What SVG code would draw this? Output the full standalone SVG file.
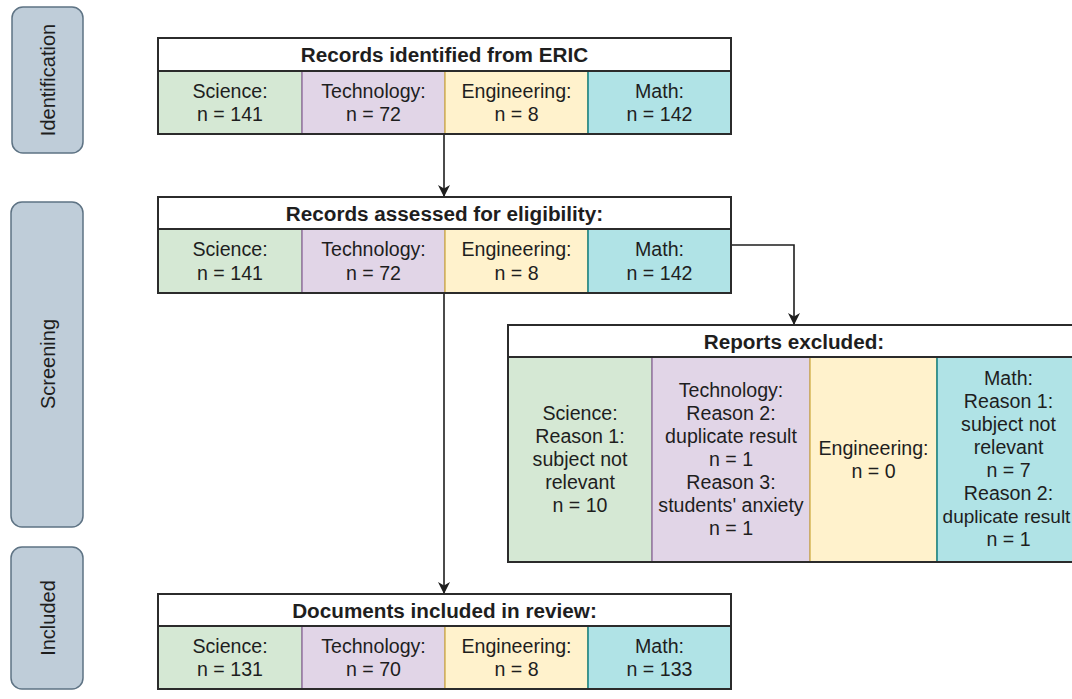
<svg xmlns="http://www.w3.org/2000/svg" width="1072" height="699" viewBox="0 0 1072 699">
<style>
text{font-family:"Liberation Sans",Arial,sans-serif;font-size:19.6px;fill:#1e1e1e;text-anchor:middle}
.h{font-weight:bold;font-size:20.7px}
.pl{font-size:20px}
.phase{fill:#bfcdd9;stroke:#5e7384;stroke-width:1.5}
.box{fill:none;stroke:#2b2b2b;stroke-width:2}
.hdr{fill:#ffffff;stroke:#2b2b2b;stroke-width:2}
.sci{fill:#d5e8d4;stroke:#82b366;stroke-width:1.5}
.tec{fill:#e1d5e7;stroke:#9673a6;stroke-width:1.5}
.eng{fill:#fff2cc;stroke:#d6b656;stroke-width:1.5}
.mat{fill:#b0e3e6;stroke:#0e8088;stroke-width:1.5}
.edge{fill:none;stroke:#1e1e1e;stroke-width:1.6}
</style>
<defs>
<marker id="arr" viewBox="0 0 12 12" refX="12" refY="6" markerWidth="12" markerHeight="12" markerUnits="userSpaceOnUse" orient="auto">
<path d="M0,0 L12,6 L0,12 L3.5,6 Z" fill="#1e1e1e"/>
</marker>
</defs>

<g id="phase-identification">
<rect class="phase" x="12" y="7" width="71" height="146" rx="11"/>
<text class="pl" transform="translate(54.5,80) rotate(-90)">Identification</text>
</g>
<g id="phase-screening">
<rect class="phase" x="11" y="202" width="72" height="325" rx="11"/>
<text class="pl" transform="translate(54.5,364) rotate(-90)">Screening</text>
</g>
<g id="phase-included">
<rect class="phase" x="11" y="547" width="72" height="142" rx="11"/>
<text class="pl" transform="translate(54.5,618) rotate(-90)">Included</text>
</g>

<g id="connectors">
<line class="edge" x1="444" y1="134" x2="444" y2="197" marker-end="url(#arr)"/>
<line class="edge" x1="444" y1="293" x2="444" y2="594" marker-end="url(#arr)"/>
<polyline class="edge" points="731,245 794,245 794,325" marker-end="url(#arr)"/>
</g>

<g id="records-identified">
<rect class="sci" x="158" y="71" width="144" height="63"/>
<rect class="tec" x="302" y="71" width="143" height="63"/>
<rect class="eng" x="445" y="71" width="143" height="63"/>
<rect class="mat" x="588" y="71" width="143" height="63"/>
<rect class="hdr" x="158" y="38" width="573" height="33"/>
<rect class="box" x="158" y="38" width="573" height="96"/>
<text class="h" x="444.5" y="62">Records identified from ERIC</text>
<text x="230" y="98">Science:</text><text x="230" y="121">n = 141</text>
<text x="373.5" y="98">Technology:</text><text x="373.5" y="121">n = 72</text>
<text x="516.5" y="98">Engineering:</text><text x="516.5" y="121">n = 8</text>
<text x="659.5" y="98">Math:</text><text x="659.5" y="121">n = 142</text>
</g>

<g id="records-assessed">
<rect class="sci" x="158" y="229" width="144" height="64"/>
<rect class="tec" x="302" y="229" width="143" height="64"/>
<rect class="eng" x="445" y="229" width="143" height="64"/>
<rect class="mat" x="588" y="229" width="143" height="64"/>
<rect class="hdr" x="158" y="197" width="573" height="32"/>
<rect class="box" x="158" y="197" width="573" height="96"/>
<text class="h" x="444.5" y="220.5">Records assessed for eligibility:</text>
<text x="230" y="256">Science:</text><text x="230" y="280">n = 141</text>
<text x="373.5" y="256">Technology:</text><text x="373.5" y="280">n = 72</text>
<text x="516.5" y="256">Engineering:</text><text x="516.5" y="280">n = 8</text>
<text x="659.5" y="256">Math:</text><text x="659.5" y="280">n = 142</text>
</g>

<g id="reports-excluded">
<rect class="sci" x="508" y="357" width="144" height="205"/>
<rect class="tec" x="652" y="357" width="158" height="205"/>
<rect class="eng" x="810" y="357" width="127" height="205"/>
<rect class="mat" x="937" y="357" width="143" height="205"/>
<rect class="hdr" x="508" y="325" width="572" height="32"/>
<rect class="box" x="508" y="325" width="572" height="237"/>
<text class="h" x="794" y="348.5">Reports excluded:</text>
<text x="580" y="420">Science:</text>
<text x="580" y="443">Reason 1:</text>
<text x="580" y="466">subject not</text>
<text x="580" y="489">relevant</text>
<text x="580" y="512">n = 10</text>
<text x="731" y="397">Technology:</text>
<text x="731" y="420">Reason 2:</text>
<text x="731" y="443">duplicate result</text>
<text x="731" y="466">n = 1</text>
<text x="731" y="489">Reason 3:</text>
<text x="731" y="512">students' anxiety</text>
<text x="731" y="535">n = 1</text>
<text x="873.5" y="455">Engineering:</text>
<text x="873.5" y="478">n = 0</text>
<text x="1008.5" y="385">Math:</text>
<text x="1008.5" y="408">Reason 1:</text>
<text x="1008.5" y="431">subject not</text>
<text x="1008.5" y="454">relevant</text>
<text x="1008.5" y="477">n = 7</text>
<text x="1008.5" y="500">Reason 2:</text>
<text x="1006.5" y="523" style="font-size:19px">duplicate result</text>
<text x="1008.5" y="546">n = 1</text>
</g>

<g id="documents-included">
<rect class="sci" x="158" y="626" width="144" height="63"/>
<rect class="tec" x="302" y="626" width="143" height="63"/>
<rect class="eng" x="445" y="626" width="143" height="63"/>
<rect class="mat" x="588" y="626" width="143" height="63"/>
<rect class="hdr" x="158" y="594" width="573" height="32"/>
<rect class="box" x="158" y="594" width="573" height="95"/>
<text class="h" x="444.5" y="617.5">Documents included in review:</text>
<text x="230" y="653">Science:</text><text x="230" y="676">n = 131</text>
<text x="373.5" y="653">Technology:</text><text x="373.5" y="676">n = 70</text>
<text x="516.5" y="653">Engineering:</text><text x="516.5" y="676">n = 8</text>
<text x="659.5" y="653">Math:</text><text x="659.5" y="676">n = 133</text>
</g>
</svg>
